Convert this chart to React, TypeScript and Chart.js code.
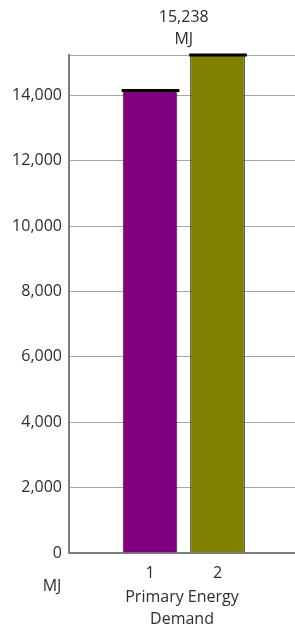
import React, { useEffect, useRef } from "react";
import { Chart, registerables } from "chart.js";

Chart.register(...registerables);

const barLabels = ["1", "2"];
const barPositions = [1, 2];
const barValues = [14150, 15238];
const barColors = ["#800080", "#808000"];
const yTickValues = [0, 2000, 4000, 6000, 8000, 10000, 12000, 14000];
const axisTitle = ["Primary Energy", "Demand"];
const unitLabel = "MJ";

const FONT = "'Open Sans', 'Noto Sans', sans-serif";
const TEXT = "#2e2e2e";
const FS = 16;

export default function App() {
  const ref = useRef<HTMLCanvasElement>(null);
  useEffect(() => {
    if (!ref.current) return;
    const maxVal = Math.max(...barValues);
    const overlay = {
      id: "overlay",
      afterDatasetsDraw(chart: any) {
        const ctx = chart.ctx;
        const meta = chart.getDatasetMeta(0);
        ctx.save();
        ctx.strokeStyle = "#000";
        ctx.lineWidth = 3;
        meta.data.forEach((el: any) => {
          const w = el.width;
          ctx.beginPath();
          ctx.moveTo(el.x - w / 2 - 1, el.y);
          ctx.lineTo(el.x + w / 2 + 2, el.y);
          ctx.stroke();
        });
        ctx.restore();
      },
      afterDraw(chart: any) {
        const ctx = chart.ctx;
        const meta = chart.getDatasetMeta(0);
        const cx = (meta.data[0].x + meta.data[meta.data.length - 1].x) / 2;
        ctx.save();
        ctx.fillStyle = TEXT;
        ctx.font = `${FS}px ${FONT}`;
        ctx.textAlign = "center";
        ctx.textBaseline = "middle";
        ctx.fillText(maxVal.toLocaleString("en-US"), cx, 17);
        ctx.fillText(unitLabel, cx, 39);
        ctx.fillText(unitLabel, 52, 586);
        ctx.restore();
      },
    };
    const chart = new Chart(ref.current, {
      type: "bar",
      data: {
        datasets: [
          {
            data: barPositions.map((x, i) => ({ x, y: barValues[i] })),
            backgroundColor: barColors,
            borderColor: "#222",
            borderWidth: 1,
            categoryPercentage: 0.9,
            barPercentage: 0.9,
          },
        ],
      },
      options: {
        animation: false,
        responsive: true,
        maintainAspectRatio: false,
        layout: { padding: { top: 55, left: 0, right: 0, bottom: 0 } },
        plugins: { legend: { display: false }, tooltip: { enabled: false } },
        scales: {
          x: {
            type: "linear",
            offset: false,
            min: -0.2,
            max: 3.148,
            afterBuildTicks: (s: any) => {
              s.ticks = barPositions.map((v) => ({ value: v }));
            },
            afterFit: (s: any) => {
              s.height = 78;
            },
            grid: { display: false, drawTicks: false },
            border: { display: true, color: "#7f7f7f", width: 2 },
            ticks: {
              padding: 11,
              color: TEXT,
              font: { size: FS, family: FONT },
              callback: (v: any) => {
                const i = barPositions.indexOf(Number(v));
                return i >= 0 ? barLabels[i] : "";
              },
            },
            title: {
              display: true,
              text: axisTitle,
              color: TEXT,
              font: { size: FS, family: FONT, lineHeight: 1.4 },
              padding: { top: 0, bottom: 0 },
            },
          },
          y: {
            min: 0,
            max: maxVal,
            afterBuildTicks: (s: any) => {
              s.ticks = [...yTickValues, maxVal].map((v) => ({ value: v }));
            },
            afterFit: (s: any) => {
              s.width = 69;
            },
            grid: { color: "#a6a6a6", drawTicks: false, lineWidth: 1 },
            border: { display: true, color: "#7f7f7f", width: 2 },
            ticks: {
              padding: 7,
              color: TEXT,
              font: { size: FS, family: FONT },
              callback: (v: any) =>
                yTickValues.includes(Number(v)) ? Number(v).toLocaleString("en-US") : "",
            },
          },
        },
      },
      plugins: [overlay],
    });
    return () => chart.destroy();
  }, []);
  return (
    <div style={{ position: "fixed", left: 0, top: 0, width: 295, height: 631 }}>
      <canvas ref={ref} />
    </div>
  );
}
